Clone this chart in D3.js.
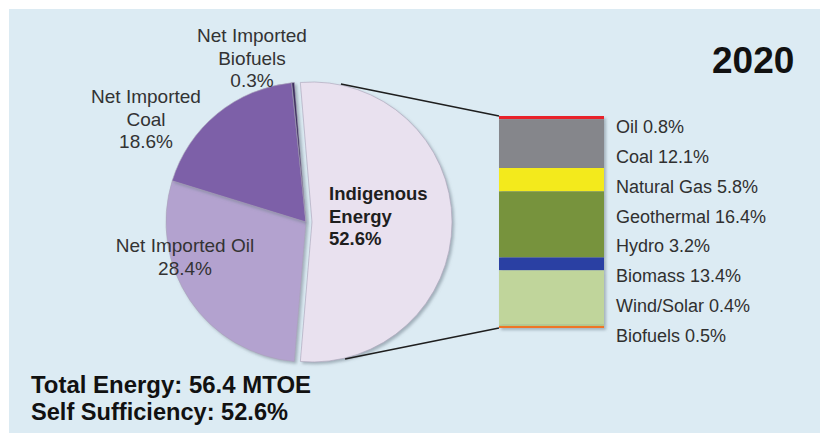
<!DOCTYPE html>
<html>
<head>
<meta charset="utf-8">
<script src="https://cdn.jsdelivr.net/npm/d3@7"></script>
<style>
  body { margin: 0; background: #fff; }
  svg { display: block; font-family: "Liberation Sans", Arial, sans-serif; }
</style>
</head>
<body>
<div class="bar-of-pie"></div>
<script>
// pie: total primary energy supply
var pieNames = ["Indigenous\nEnergy", "Net Imported Oil", "Net Imported\nCoal", "Net Imported\nBiofuels"];
var pieValues = [52.6, 28.4, 18.6, 0.3];
var pieColors = ["#e9e1ef", "#b3a2cf", "#7d60a8", "#3c2f5e"];

// bar: breakdown of indigenous energy
var barNames = ["Oil", "Coal", "Natural Gas", "Geothermal", "Hydro", "Biomass", "Wind/Solar", "Biofuels"];
var barValues = [0.8, 12.1, 5.8, 16.4, 3.2, 13.4, 0.4, 0.5];
var barColors = ["#e8232b", "#85868b", "#f3ea1c", "#77933c", "#2c41a3", "#c0d59b", "#b3cb8c", "#ee7526"];

var yearLabel = "2020";
var summaryLines = ["Total Energy: 56.4 MTOE", "Self Sufficiency: 52.6%"];

var svgWidth = 820;
var svgHeight = 433;

var svg = d3.select('.bar-of-pie')
  .append('svg')
  .attr('width', svgWidth)
  .attr('height', svgHeight);

var defs = svg.append('defs');
var shadow = defs.append('filter')
  .attr('id', 'shadow')
  .attr('x', '-10%').attr('y', '-10%')
  .attr('width', '130%').attr('height', '130%');
shadow.append('feDropShadow')
  .attr('dx', 2).attr('dy', 2)
  .attr('stdDeviation', 1.8)
  .attr('flood-color', '#6f7f8c')
  .attr('flood-opacity', 0.55);

// panel background
svg.append('rect')
  .attr('x', 9)
  .attr('y', 9)
  .attr('width', svgWidth - 9)
  .attr('height', svgHeight - 9)
  .attr('fill', '#dcebf3');

// ---- pie ----
var cx = 306, cy = 222, radius = 140, explode = 6;

var indigShare = pieValues[0] / d3.sum(pieValues) * 2 * Math.PI;
var pie = d3.pie()
  .sort(null)
  .value(function (d) { return d; })
  .startAngle(Math.PI / 2 - indigShare / 2)
  .endAngle(Math.PI / 2 - indigShare / 2 + 2 * Math.PI);

var arc = d3.arc()
  .innerRadius(0)
  .outerRadius(radius);

var arcs = pie(pieValues);

var pieG = svg.append('g')
  .attr('transform', 'translate(' + cx + ',' + cy + ')');

pieG.selectAll('path')
  .data(arcs)
  .enter()
  .append('path')
  .attr('d', arc)
  .attr('transform', function (d, i) {
    return i === 0 ? 'translate(' + explode + ',0)' : null;
  })
  .attr('fill', function (d, i) { return pieColors[i]; })
  .attr('stroke', '#a9a3b8')
  .attr('stroke-width', 0.6)
  .attr('filter', 'url(#shadow)');

// ---- stacked bar ----
var barX = 499, barW = 105;
var yScale = d3.scaleLinear()
  .domain([0, d3.sum(barValues)])
  .range([116, 328]);

var ends = d3.cumsum(barValues);
var barData = barValues.map(function (v, i) {
  return { name: barNames[i], value: v, y0: ends[i] - v, y1: ends[i] };
});

var barG = svg.append('g')
  .attr('filter', 'url(#shadow)');

barG.selectAll('rect')
  .data(barData)
  .enter()
  .append('rect')
  .attr('x', barX)
  .attr('width', barW)
  .attr('y', function (d) { return yScale(d.y0); })
  .attr('height', function (d) { return yScale(d.y1) - yScale(d.y0); })
  .attr('fill', function (d, i) { return barColors[i]; });

// connector lines from the indigenous slice to the bar
var slice = arcs[0];
var a1 = slice.startAngle + 0.29;
var a2 = slice.endAngle - 0.32;
var ox = cx + explode;
[[a1, yScale(0)], [a2, yScale(d3.sum(barValues))]].forEach(function (p) {
  svg.append('line')
    .attr('x1', ox + (radius + 1) * Math.sin(p[0]))
    .attr('y1', cy - (radius + 1) * Math.cos(p[0]))
    .attr('x2', barX)
    .attr('y2', p[1])
    .attr('stroke', '#1e1e1e')
    .attr('stroke-width', 1.6);
});

// bar labels, spread evenly down the side of the bar
var labelY = d3.scalePoint()
  .domain(barNames)
  .range([133, 342]);

svg.selectAll('.bar-label')
  .data(barData)
  .enter()
  .append('text')
  .attr('class', 'bar-label')
  .attr('x', 616)
  .attr('y', function (d) { return labelY(d.name); })
  .attr('font-size', 18)
  .attr('fill', '#303030')
  .text(function (d) { return d.name + ' ' + d.value + '%'; });

// pie labels (offsets from pie centre)
var pieLabelPos = [
  { dx: 23, dy: -22, anchor: 'start', bold: true },
  { dx: -121, dy: 30, anchor: 'middle' },
  { dx: -160, dy: -119, anchor: 'middle' },
  { dx: -54, dy: -180, anchor: 'middle' }
];

pieNames.forEach(function (name, i) {
  var pos = pieLabelPos[i];
  var lines = name.split('\n').concat([pieValues[i] + '%']);
  var t = svg.append('text')
    .attr('x', cx + pos.dx)
    .attr('y', cy + pos.dy)
    .attr('text-anchor', pos.anchor)
    .attr('font-size', pos.bold ? 18.5 : 19)
    .attr('font-weight', pos.bold ? 'bold' : 'normal')
    .attr('fill', pos.bold ? '#1e1e1e' : '#333');
  lines.forEach(function (line, j) {
    t.append('tspan')
      .attr('x', cx + pos.dx)
      .attr('dy', j === 0 ? 0 : 22.5)
      .text(line);
  });
});

// year
svg.append('text')
  .attr('x', 712)
  .attr('y', 73)
  .attr('font-size', 37)
  .attr('font-weight', 'bold')
  .attr('fill', '#111')
  .text(yearLabel);

// totals
svg.selectAll('.summary')
  .data(summaryLines)
  .enter()
  .append('text')
  .attr('class', 'summary')
  .attr('x', 31)
  .attr('y', function (d, i) { return 393 + i * 27; })
  .attr('font-size', 24)
  .attr('font-weight', 'bold')
  .attr('fill', '#111')
  .attr('textLength', function (d, i) { return i === 0 ? 280 : 257; })
  .attr('lengthAdjust', 'spacingAndGlyphs')
  .text(function (d) { return d; });
</script>
</body>
</html>
